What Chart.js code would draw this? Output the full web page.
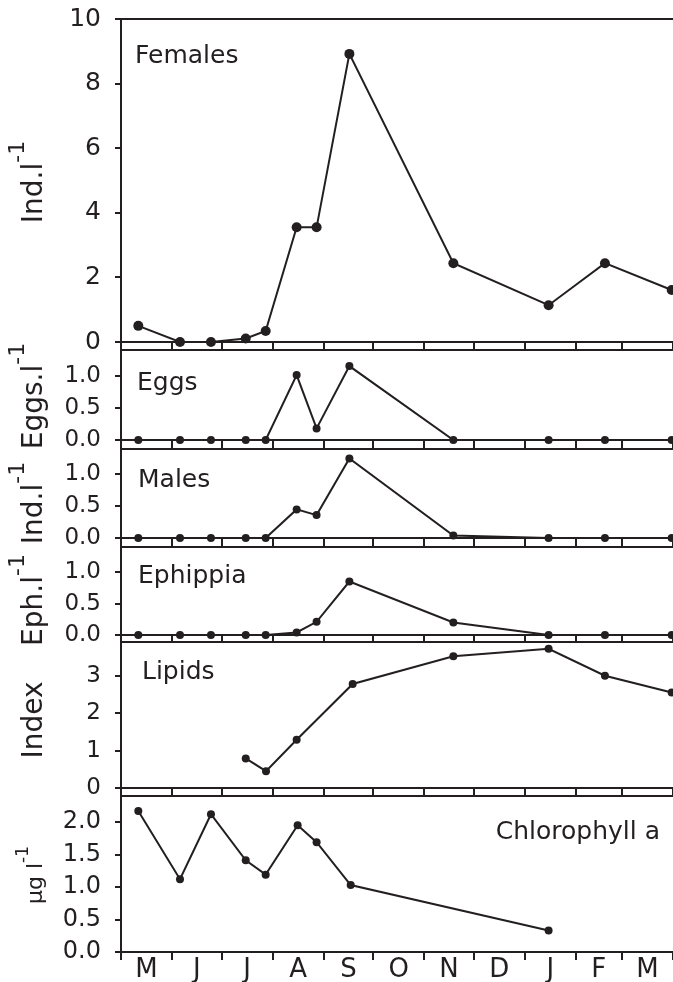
<!DOCTYPE html>
<html><head><meta charset="utf-8">
<script src="https://cdn.jsdelivr.net/npm/chart.js@4"></script>
<style>
html,body{margin:0;padding:0;background:#fff;overflow:hidden;}
#wrap{position:relative;width:673px;height:982px;overflow:hidden;}
canvas{position:absolute;left:0;top:0;}
</style></head><body><div id="wrap"></div>
<script>
// ---------- data ----------
const monthLabels = ['M','J','J','A','S','O','N','D','J','F','M'];
const monthStarts = [0,31,61,92,123,153,184,214,245,276,304,335]; // days since 1 May
const sampleDays = [10.5,35.8,54.6,75.7,87.8,106.6,118.7,138.6,201.7,259.5,293.7,334.2];
const females  = [0.50,0.00,0.00,0.11,0.34,3.55,3.55,8.92,2.44,1.14,2.44,1.61];
const eggs     = [0,0,0,0,0,1.01,0.18,1.15,0,0,0,0];
const males    = [0,0,0,0,0,0.45,0.36,1.25,0.04,0,0,0];
const ephippia = [0,0,0,0,0,0.04,0.21,0.85,0.20,0,0,0];
const lipidDays = [75.7,88.0,106.6,140.6,201.7,259.5,293.7,334.2];
const lipids    = [0.79,0.45,1.29,2.78,3.52,3.72,3.00,2.55];
const chlDays = [10.5,35.8,54.6,75.7,87.8,107.2,118.7,139.4,259.5];
const chlorophyll = [2.17,1.12,2.12,1.41,1.19,1.95,1.69,1.03,0.33];
const femaleTicks = [0,2,4,6,8,10];
const smallTicks  = [0,0.5,1.0];
const lipidTicks  = [0,1,2,3];
const chlTicks    = [0,0.5,1.0,1.5,2.0];

// ---------- style ----------
const ink = '#231f20';
const family = '"DejaVu Sans", sans-serif';
const W = 690, H = 982, RIGHT = 673;
const monthMids = monthLabels.map((m,i)=>(monthStarts[i]+monthStarts[i+1])/2);

const textPlugin = {
  id: 'panelText',
  afterDraw(chart, args, o) {
    const ctx = chart.ctx;
    const t = o.title;
    ctx.save();
    ctx.fillStyle = ink;
    ctx.font = t.size + 'px ' + family;
    const w1 = ctx.measureText(t.text).width;
    let w2 = 0;
    if (t.sup) { ctx.font = t.supSize + 'px ' + family; w2 = ctx.measureText(t.sup).width; }
    ctx.translate(t.x, t.cy + (w1 + w2) / 2);
    ctx.rotate(-Math.PI / 2);
    ctx.textAlign = 'left'; ctx.textBaseline = 'alphabetic';
    ctx.font = t.size + 'px ' + family;
    ctx.fillText(t.text, 0, 0);
    if (t.sup) { ctx.font = t.supSize + 'px ' + family; ctx.fillText(t.sup, w1, -t.raise); }
    ctx.restore();
    const l = o.label;
    ctx.save();
    ctx.fillStyle = ink;
    ctx.font = l.size + 'px ' + family;
    ctx.textAlign = l.align; ctx.textBaseline = 'alphabetic';
    ctx.fillText(l.text, l.x, l.y);
    ctx.restore();
  }
};

function makePanel(p) {
  const c = document.createElement('canvas');
  c.width = W; c.height = H;
  document.getElementById('wrap').appendChild(c);
  const xH = p.showMonths ? 30 : 8;
  const xTickVals = p.showMonths ? monthStarts.concat(monthMids).sort((a,b)=>a-b) : monthStarts;
  new Chart(c, {
    type: 'line',
    data: { datasets: [{
      data: p.xs.map((x,i)=>({x:x, y:p.ys[i]})),
      borderColor: ink, borderWidth: 2, tension: 0,
      pointRadius: p.radius, pointBackgroundColor: ink, pointBorderColor: ink, pointBorderWidth: 0,
      clip: false, fill: false
    }]},
    options: {
      responsive: false, animation: false, devicePixelRatio: 1, events: [],
      layout: { padding: { left: 0, right: W - RIGHT, top: p.top, bottom: H - p.bottom - xH } },
      plugins: { legend: {display:false}, tooltip: {enabled:false},
        panelText: { title: p.title, label: p.label } },
      scales: {
        x: {
          type: 'linear', position: 'bottom', min: 0, max: 335,
          afterBuildTicks: s => { s.ticks = xTickVals.map(v=>({value:v})); },
          afterFit: s => { s.height = xH; s.paddingLeft = 0; s.paddingRight = 0; },
          grid: { drawOnChartArea: false, drawTicks: true, tickLength: 8, lineWidth: 2,
            color: ctx => (ctx.tick && monthStarts.includes(ctx.tick.value)) ? ink : 'rgba(0,0,0,0)' },
          border: { display: true, color: ink, width: 2 },
          ticks: { display: !!p.showMonths, autoSkip: false, maxRotation: 0, minRotation: 0, padding: 0,
            color: ink, font: { family: family, size: 26, lineHeight: 0.8 },
            callback: v => { const i = monthMids.indexOf(v); return i >= 0 ? monthLabels[i] : ''; } }
        },
        xTop: {
          type: 'linear', position: 'top', min: 0, max: 335,
          afterFit: s => { s.height = 0; s.paddingLeft = 0; s.paddingRight = 0; },
          grid: { display: false, drawTicks: false }, ticks: { display: false },
          border: { display: true, color: ink, width: 2 }
        },
        y: {
          type: 'linear', position: 'left', min: 0, max: p.yMax,
          afterBuildTicks: s => { s.ticks = p.ticks.map(v=>({value:v})); },
          afterFit: s => { s.width = 121; s.paddingTop = 0; s.paddingBottom = 0; },
          grid: { drawOnChartArea: false, drawTicks: true, tickLength: 6, lineWidth: 2, color: ink },
          border: { display: true, color: ink, width: 2 },
          ticks: { color: ink, padding: 14, font: { family: family, size: p.tickSize },
            callback: v => p.dec ? Number(v).toFixed(1) : String(v) }
        }
      }
    },
    plugins: [textPlugin]
  });
}

makePanel({ top: 19, bottom: 342, xs: sampleDays, ys: females, yMax: 10, ticks: femaleTicks, tickSize: 25, dec: false, radius: 5,
  title: { text: 'Ind.l', sup: '-1', size: 28, supSize: 22, raise: 18, x: 42, cy: 182 },
  label: { text: 'Females', x: 135, y: 63, size: 25, align: 'left' } });
makePanel({ top: 350, bottom: 440, xs: sampleDays, ys: eggs, yMax: 1.4, ticks: smallTicks, tickSize: 23, dec: true, radius: 4,
  title: { text: 'Eggs.l', sup: '-1', size: 28, supSize: 22, raise: 18, x: 42, cy: 396 },
  label: { text: 'Eggs', x: 137, y: 390, size: 25, align: 'left' } });
makePanel({ top: 449, bottom: 538, xs: sampleDays, ys: males, yMax: 1.4, ticks: smallTicks, tickSize: 23, dec: true, radius: 4,
  title: { text: 'Ind.l', sup: '-1', size: 28, supSize: 22, raise: 18, x: 42, cy: 503 },
  label: { text: 'Males', x: 138, y: 487, size: 25, align: 'left' } });
makePanel({ top: 547, bottom: 635, xs: sampleDays, ys: ephippia, yMax: 1.4, ticks: smallTicks, tickSize: 23, dec: true, radius: 4,
  title: { text: 'Eph.l', sup: '-1', size: 28, supSize: 22, raise: 18, x: 42, cy: 600 },
  label: { text: 'Ephippia', x: 138, y: 583, size: 25, align: 'left' } });
makePanel({ top: 642, bottom: 788, xs: lipidDays, ys: lipids, yMax: 3.9, ticks: lipidTicks, tickSize: 23, dec: false, radius: 4,
  title: { text: 'Index', sup: '', size: 28, supSize: 22, raise: 18, x: 42, cy: 720 },
  label: { text: 'Lipids', x: 142, y: 679, size: 25, align: 'left' } });
makePanel({ top: 796, bottom: 952, xs: chlDays, ys: chlorophyll, yMax: 2.4, ticks: chlTicks, tickSize: 24, dec: true, radius: 4, showMonths: true,
  title: { text: '\u00b5g l', sup: '-1', size: 22, supSize: 17, raise: 14, x: 42, cy: 875 },
  label: { text: 'Chlorophyll a', x: 660, y: 839, size: 25, align: 'right' } });
</script>
</body></html>
